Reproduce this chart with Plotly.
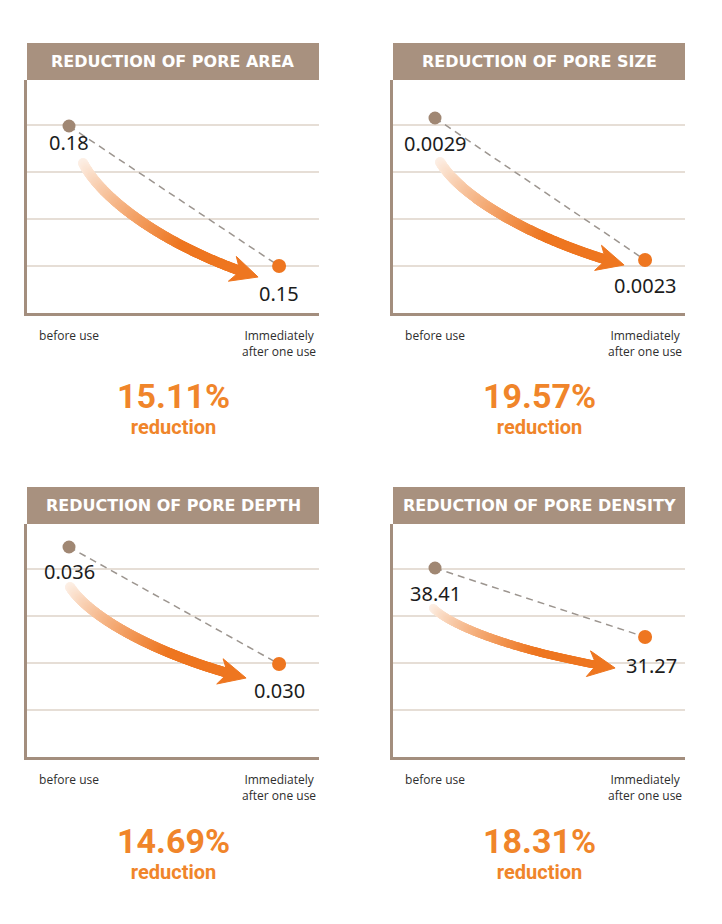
import plotly.graph_objects as go
import numpy as np

# ---------------- data ----------------
titles = ["REDUCTION OF PORE AREA", "REDUCTION OF PORE SIZE",
          "REDUCTION OF PORE DEPTH", "REDUCTION OF PORE DENSITY"]
categories = ["before use", "Immediately<br>after one use"]
before_values = [0.18, 0.0029, 0.036, 38.41]
after_values = [0.15, 0.0023, 0.030, 31.27]
value_formats = [".2f", ".4f", ".3f", ".2f"]
reduction_pct = [15.11, 19.57, 14.69, 18.31]
reduction_word = "reduction"

# ---------------- layout / style ----------------
W, H = 722, 924
col_left = [27, 393]
panel_w = 292
header_top = [43, 487]
plot_top = [80, 524]
plot_bottom = [313, 757]
pct_block_y = [408, 852]
x_range = (-0.2, 1.19)
y_ranges = [(0.13993, 0.18986), (0.002076, 0.0030606),
            (0.025231, 0.03718), (18.853, 42.963)]
label_shift = [(0, 16), (0, 25), (0, 24), (0, 25)]
label_shift_after = [(0, 27), (0, 26), (0, 26), (6, 28)]
arrow_start_off = [(14, 37), (5, 44), (1, 40), (-2, 40)]
arrow_tip_off = [(-21, 11), (-21, 5), (-33, 14), (-30, 31)]
shaft_size = [10, 10, 10, 8]

BROWN = "#A8917F"
AXIS_BROWN = "#A38E7E"
DOT_BROWN = "#A08773"
ORANGE = "#EE7620"
TEXT_ORANGE = "#F0852A"
GRID = "#E6DED6"

fig = go.Figure()
annotations = []
shapes = []

for i in range(4):
    r, c = divmod(i, 2)
    sfx = "" if i == 0 else str(i + 1)
    xa, ya = "x" + sfx, "y" + sfx
    L = col_left[c]
    R = L + panel_w
    top, bot = plot_top[r], plot_bottom[r]
    y0, y1 = y_ranges[i]
    x0, x1 = x_range

    def to_px(xv, yv, L=L, top=top, bot=bot, y0=y0, y1=y1):
        return (L + (xv - x0) / (x1 - x0) * panel_w,
                bot - (yv - y0) / (y1 - y0) * (bot - top))

    def to_data(px, py, L=L, top=top, bot=bot, y0=y0, y1=y1):
        return (x0 + (px - L) / panel_w * (x1 - x0),
                y0 + (bot - py) / (bot - top) * (y1 - y0))

    ph = bot - top
    gridvals = [y0 + k * (y1 - y0) * 47 / ph for k in range(1, 5)]

    fig.update_layout(**{
        "xaxis" + sfx: dict(domain=[L / W, R / W], range=list(x_range), anchor=ya,
                            showgrid=False, zeroline=False, showline=True,
                            linecolor=AXIS_BROWN, linewidth=2.5,
                            tickmode="array", tickvals=[0, 1], ticktext=categories,
                            ticks="", ticklabelstandoff=10,
                            tickfont=dict(family="Open Sans", size=12, color="#2e2e2e"),
                            fixedrange=True),
        "yaxis" + sfx: dict(domain=[1 - bot / H, 1 - top / H], range=[y0, y1], anchor=xa,
                            showgrid=True, gridcolor=GRID, gridwidth=1.6,
                            zeroline=False, showline=True, linecolor=AXIS_BROWN,
                            linewidth=2.5, tickmode="array", tickvals=gridvals,
                            showticklabels=False, ticks="", fixedrange=True),
    })

    # ---- gradient curved arrow ----
    bx, by = to_px(0, before_values[i])
    ox, oy = to_px(1, after_values[i])
    P0 = np.array([bx + arrow_start_off[i][0], by + arrow_start_off[i][1]])
    T = np.array([ox + arrow_tip_off[i][0], oy + arrow_tip_off[i][1]])
    d = T - P0
    P1 = P0 + np.array([0.11 * d[0], 0.33 * d[1]])
    P2 = T - np.array([0.51 * d[0], 0.25 * d[1]])
    ts = np.linspace(0, 1, 220)
    pts = ((1 - ts) ** 3)[:, None] * P0 + (3 * (1 - ts) ** 2 * ts)[:, None] * P1 \
        + (3 * (1 - ts) * ts ** 2)[:, None] * P2 + (ts ** 3)[:, None] * T
    head_len, head_w, notch = 27, 13, 8
    dist = np.hypot(pts[:, 0] - T[0], pts[:, 1] - T[1])
    keep = dist > head_len - 9
    pts = pts[keep]
    tk = ts[keep] / ts[keep].max()
    start_rgb = np.array([253, 240, 230])
    end_rgb = np.array([238, 118, 32])
    f = np.clip(tk / 0.75, 0, 1) ** 1.1
    cols = [f"rgb({int(a)},{int(b)},{int(cc)})" for a, b, cc in
            (start_rgb[None, :] * (1 - f[:, None]) + end_rgb[None, :] * f[:, None])]
    dxy = [to_data(p[0], p[1]) for p in pts]
    fig.add_trace(go.Scatter(x=[q[0] for q in dxy], y=[q[1] for q in dxy],
                             mode="markers", xaxis=xa, yaxis=ya,
                             marker=dict(size=shaft_size[i], color=cols, opacity=1,
                                         line=dict(width=0)),
                             hoverinfo="skip", showlegend=False))
    u = T - P2
    u = u / np.hypot(*u)
    n = np.array([-u[1], u[0]])
    C = T - head_len * u
    poly = [T, C + head_w * n, T - (head_len - notch) * u, C - head_w * n, T]
    pd_ = [to_data(p[0], p[1]) for p in poly]
    fig.add_trace(go.Scatter(x=[q[0] for q in pd_], y=[q[1] for q in pd_],
                             mode="lines", fill="toself", fillcolor="rgb(238,118,32)",
                             line=dict(color="rgb(238,118,32)", width=1), xaxis=xa, yaxis=ya,
                             hoverinfo="skip", showlegend=False))

    # ---- dashed connector and dots ----
    fig.add_trace(go.Scatter(x=[0, 1], y=[before_values[i], after_values[i]],
                             mode="lines", xaxis=xa, yaxis=ya,
                             line=dict(color="#9C958F", width=1.5, dash="7px,5px"),
                             hoverinfo="skip", showlegend=False))
    fig.add_trace(go.Scatter(x=[0, 1], y=[before_values[i], after_values[i]],
                             mode="markers", xaxis=xa, yaxis=ya, opacity=1,
                             marker=dict(size=[13, 14], color=[DOT_BROWN, ORANGE],
                                         opacity=1, line=dict(width=0)),
                             hoverinfo="skip", showlegend=False))

    # ---- value labels ----
    for xv, yv, sh in [(0, before_values[i], label_shift[i]),
                       (1, after_values[i], label_shift_after[i])]:
        annotations.append(dict(x=xv, y=yv, xref=xa, yref=ya, showarrow=False,
                                text=format(yv, value_formats[i]),
                                xshift=sh[0], yshift=-sh[1],
                                font=dict(family="Noto Sans", size=20, color="#1c1c1c")))

    # ---- header ----
    ht = header_top[r]
    shapes.append(dict(type="rect", xref="paper", yref="paper",
                       x0=L / W, x1=R / W, y0=1 - top / H, y1=1 - ht / H,
                       fillcolor=BROWN, line=dict(width=0), layer="above"))
    annotations.append(dict(x=(L + R) / 2 / W, y=1 - (ht + top) / 2 / H,
                            xref="paper", yref="paper", showarrow=False,
                            text=titles[i], xanchor="center", yanchor="middle",
                            font=dict(family="DejaVu Sans", size=16, color="white",
                                      weight="bold")))

    # ---- percentage ----
    annotations.append(dict(x=(L + R) / 2 / W, y=1 - pct_block_y[r] / H,
                            xref="paper", yref="paper", showarrow=False,
                            text=(f"<span style='font-size:34px'>{reduction_pct[i]:.2f}%</span>"
                                  f"<br>{reduction_word}"),
                            xanchor="center", yanchor="middle", align="center",
                            font=dict(family="Roboto", size=20, color=TEXT_ORANGE,
                                      weight="bold")))

fig.update_layout(width=W, height=H, margin=dict(l=0, r=0, t=0, b=0),
                  paper_bgcolor="white", plot_bgcolor="white",
                  showlegend=False, annotations=annotations, shapes=shapes)

fig.write_html("out.html", config={"displayModeBar": False})
